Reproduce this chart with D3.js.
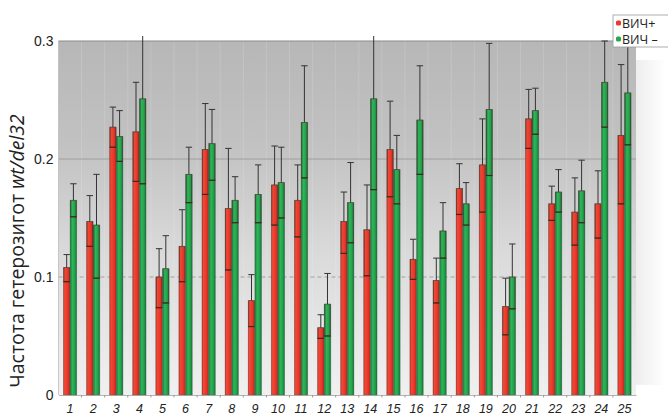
<!DOCTYPE html>
<html>
<head>
<meta charset="utf-8">
<script src="https://cdn.jsdelivr.net/npm/d3@7"></script>
<style>
  html, body { margin: 0; padding: 0; background: #fff; }
  svg { display: block; font-family: "Open Sans", "Noto Sans", sans-serif; }
</style>
</head>
<body>
<svg id="chart" width="668" height="418"></svg>
<script>
// Heterozygote frequency wt/del32 by group, HIV+ vs HIV−, with confidence limits
const categories = d3.range(1, 26).map(String);

const hivPos   = [0.108,0.147,0.227,0.223,0.100,0.126,0.208,0.158,0.080,0.178,0.165,0.057,0.147,0.140,0.208,0.115,0.097,0.175,0.195,0.075,0.234,0.162,0.155,0.162,0.220];
const hivPosLo = [0.096,0.126,0.210,0.181,0.074,0.096,0.170,0.106,0.058,0.144,0.134,0.048,0.120,0.101,0.168,0.098,0.078,0.153,0.155,0.051,0.209,0.148,0.127,0.133,0.162];
const hivPosHi = [0.119,0.169,0.244,0.265,0.124,0.157,0.247,0.209,0.102,0.211,0.195,0.068,0.172,0.178,0.249,0.132,0.116,0.196,0.234,0.099,0.259,0.177,0.184,0.190,0.280];

const hivNeg   = [0.165,0.144,0.219,0.251,0.107,0.187,0.213,0.165,0.170,0.180,0.231,0.077,0.163,0.251,0.191,0.233,0.139,0.162,0.242,0.100,0.241,0.172,0.173,0.265,0.256];
const hivNegLo = [0.151,0.099,0.198,0.179,0.078,0.163,0.182,0.146,0.146,0.150,0.184,0.050,0.129,0.174,0.162,0.187,0.116,0.144,0.186,0.073,0.221,0.155,0.146,0.227,0.212];
const hivNegHi = [0.179,0.187,0.241,0.305,0.135,0.210,0.242,0.185,0.195,0.210,0.279,0.103,0.197,0.305,0.220,0.279,0.163,0.180,0.298,0.128,0.260,0.191,0.199,0.300,0.305];

const seriesNames = ["ВИЧ+", "ВИЧ –"];
const yTicks = [0, 0.1, 0.2, 0.3];

const svg = d3.select("#chart");
const plot = { left: 58.5, right: 636, top: 41, bottom: 395 };

const x = d3.scaleBand().domain(categories)
  .range([plot.left, plot.right]).paddingInner(0.42).paddingOuter(0.21);
const x1 = d3.scaleBand().domain(["pos", "neg"]).range([0, x.bandwidth()]);
const y = d3.scaleLinear().domain([0, 0.3]).range([plot.bottom, plot.top]);

const defs = svg.append("defs");
const bg = defs.append("linearGradient").attr("id", "bg").attr("x1", 0).attr("y1", 0).attr("x2", 0).attr("y2", 1);
[[0, "#b7b7b7"], [0.3, "#c2c2c2"], [0.6, "#dadada"], [1, "#f0f0f0"]]
  .forEach(([o, c]) => bg.append("stop").attr("offset", o).attr("stop-color", c));

const side = defs.append("linearGradient").attr("id", "side").attr("x1", 0).attr("y1", 0).attr("x2", 1).attr("y2", 0);
[[0, "#e6e6e6"], [1, "#ffffff"]].forEach(([o, c]) => side.append("stop").attr("offset", o).attr("stop-color", c));

function barGradient(id, stops) {
  const g = defs.append("linearGradient").attr("id", id).attr("x1", 0).attr("y1", 0).attr("x2", 1).attr("y2", 0);
  stops.forEach(([o, c]) => g.append("stop").attr("offset", o).attr("stop-color", c));
}
barGradient("gPos", [[0, "#c0281d"], [0.2, "#f04a36"], [0.65, "#e8362a"], [1, "#b8261c"]]);
barGradient("gNeg", [[0, "#157a36"], [0.35, "#2fb55a"], [0.7, "#23a24b"], [1, "#137033"]]);

// soft shading to the right of the plot
svg.append("rect").attr("x", plot.right).attr("y", 60).attr("width", 30).attr("height", 325)
  .attr("fill", "url(#side)").attr("opacity", 0.7);

// plot background
svg.append("rect").attr("x", plot.left).attr("y", plot.top)
  .attr("width", plot.right - plot.left).attr("height", plot.bottom - plot.top)
  .attr("fill", "url(#bg)");

// faint separators between groups
svg.append("g").selectAll("line").data(categories.slice(1)).join("line")
  .attr("x1", d => x(d) - x.step() * 0.21).attr("x2", d => x(d) - x.step() * 0.21)
  .attr("y1", plot.top).attr("y2", plot.bottom)
  .attr("stroke", "#ffffff").attr("stroke-opacity", 0.15).attr("stroke-width", 1);

// gridlines
svg.append("g").selectAll("line").data([0.1, 0.2]).join("line")
  .attr("x1", plot.left).attr("x2", plot.right)
  .attr("y1", d => y(d)).attr("y2", d => y(d))
  .attr("stroke", "#9a9a9a").attr("stroke-width", 0.9)
  .attr("stroke-dasharray", d => d === 0.1 ? "4,3" : null);

// frame
svg.append("line").attr("x1", plot.left).attr("x2", plot.right).attr("y1", plot.top).attr("y2", plot.top)
  .attr("stroke", "#8c8c8c").attr("stroke-width", 1.2);
svg.append("line").attr("x1", plot.left).attr("x2", plot.left).attr("y1", plot.top).attr("y2", plot.bottom)
  .attr("stroke", "#bdbdbd").attr("stroke-width", 0.8);

// x axis
const xAxis = svg.append("g").attr("transform", `translate(0,${plot.bottom})`)
  .call(d3.axisBottom(x).tickSize(0).tickPadding(9));
xAxis.select(".domain").attr("stroke", "#b5b5b5");
xAxis.selectAll("text").attr("font-size", 12.5).attr("font-style", "italic").attr("fill", "#222");
xAxis.selectAll(".sep").data(categories.slice(1)).join("line").attr("class", "sep")
  .attr("x1", d => x(d) - x.step() * 0.21).attr("x2", d => x(d) - x.step() * 0.21)
  .attr("y1", 0).attr("y2", 2.5).attr("stroke", "#999");

// y axis labels
const yAxis = svg.append("g").attr("transform", `translate(${plot.left},0)`)
  .call(d3.axisLeft(y).tickValues(yTicks).tickSize(0).tickPadding(5)
    .tickFormat(d => d === 0 ? "0" : d3.format(".1f")(d)));
yAxis.select(".domain").remove();
yAxis.selectAll("text").attr("font-size", 14).attr("fill", "#222");

// y title
const yt = svg.append("text").attr("transform", "translate(24,251) rotate(-90)")
  .attr("text-anchor", "middle").attr("font-size", 19.5).attr("fill", "#222");
yt.append("tspan").text("Частота гетерозигот ");
yt.append("tspan").attr("font-style", "italic").text("wt/del32");

// bars
const rows = categories.map((c, i) => [
  { cat: c, key: "pos", v: hivPos[i], lo: hivPosLo[i], hi: hivPosHi[i] },
  { cat: c, key: "neg", v: hivNeg[i], lo: hivNegLo[i], hi: hivNegHi[i] }
]).flat();

const bw = x1.bandwidth();
const bars = svg.append("g").selectAll("g").data(rows).join("g")
  .attr("transform", d => `translate(${x(d.cat) + x1(d.key)},0)`);

bars.append("rect")
  .attr("x", 0).attr("width", bw)
  .attr("y", d => y(d.v)).attr("height", d => y(0) - y(d.v))
  .attr("fill", d => d.key === "pos" ? "url(#gPos)" : "url(#gNeg)")
  .attr("stroke", "#5a5a5a").attr("stroke-opacity", 0.55).attr("stroke-width", 0.6);

// lower confidence box inside the bar
bars.append("rect")
  .attr("x", 0.6).attr("width", bw - 1.2)
  .attr("y", d => y(d.v)).attr("height", d => y(d.lo) - y(d.v))
  .attr("fill", "none").attr("stroke", "#4b3a2e").attr("stroke-opacity", 0.75).attr("stroke-width", 0.8);
bars.append("line")
  .attr("x1", 0).attr("x2", bw).attr("y1", d => y(d.lo)).attr("y2", d => y(d.lo))
  .attr("stroke", "#3a2a22").attr("stroke-width", 1.2);

// upper whisker and cap
const yClip = y(0.3) - 5;
bars.append("line")
  .attr("x1", bw / 2).attr("x2", bw / 2)
  .attr("y1", d => y(d.v)).attr("y2", d => Math.max(y(d.hi), yClip))
  .attr("stroke", "#333").attr("stroke-width", 1);
bars.filter(d => d.hi <= 0.3).append("line")
  .attr("x1", bw / 2 - 3.2).attr("x2", bw / 2 + 3.2)
  .attr("y1", d => y(d.hi)).attr("y2", d => y(d.hi))
  .attr("stroke", "#333").attr("stroke-width", 1);

// legend
const lg = svg.append("g").attr("transform", "translate(613,15)");
lg.append("rect").attr("x", 0).attr("y", 0).attr("width", 60).attr("height", 32)
  .attr("fill", "#fff").attr("stroke", "#9a9a9a").attr("stroke-width", 0.8);
const legendColors = ["#e53a2c", "#27a84f"];
seriesNames.forEach((name, i) => {
  lg.append("rect").attr("x", 3).attr("y", 5.5 + i * 16).attr("width", 5).attr("height", 5)
    .attr("rx", 1.5).attr("fill", legendColors[i]);
  lg.append("text").attr("x", 9).attr("y", 12.5 + i * 16)
    .attr("font-size", 12.5).attr("fill", "#222").text(name);
});
</script>
</body>
</html>
